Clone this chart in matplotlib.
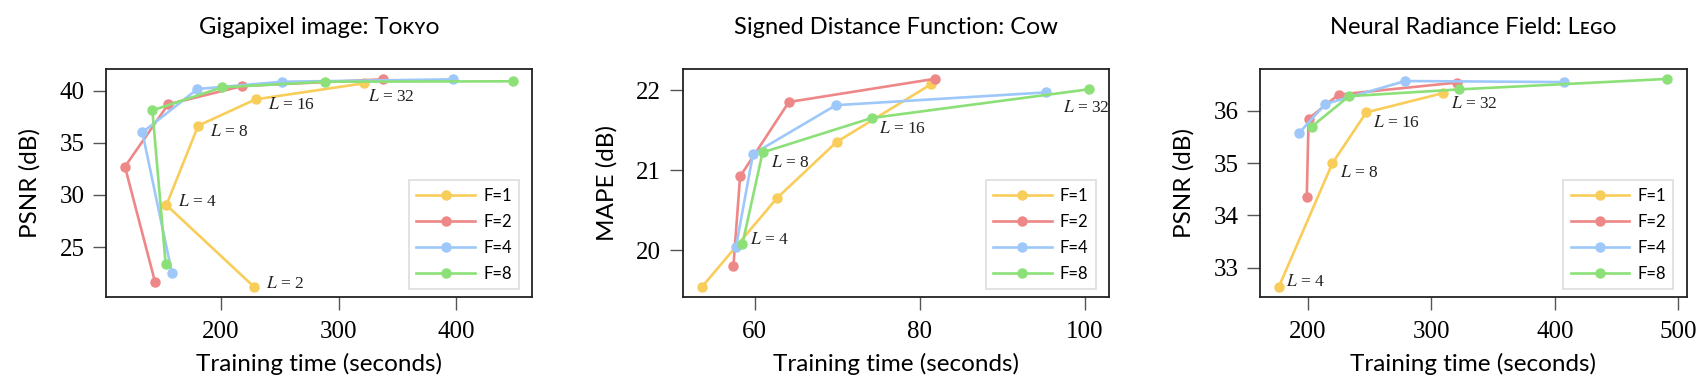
import matplotlib
matplotlib.use("Agg")
import matplotlib.pyplot as plt

# ---------------- data ----------------
series_labels = ["F=1", "F=2", "F=4", "F=8"]
colors = ["#F9CD5A", "#EE8787", "#9DC8F9", "#8CE078"]

# Panel 1: Gigapixel image (Tokyo), L = 2..32
tokyo_levels = [2, 4, 8, 16, 32]
tokyo_time = {
    "F=1": [227.9, 153.6, 180.6, 229.4, 321.1],
    "F=2": [143.9, 118.4, 155.1, 218.2, 337.2],
    "F=4": [158.4, 133.2, 180.0, 252.2, 397.3],
    "F=8": [153.0, 141.7, 200.9, 288.0, 448.0],
}
tokyo_psnr = {
    "F=1": [21.2, 29.03, 36.64, 39.17, 40.70],
    "F=2": [21.68, 32.71, 38.69, 40.45, 41.09],
    "F=4": [22.47, 36.0, 40.16, 40.86, 41.09],
    "F=8": [23.37, 38.11, 40.32, 40.86, 40.90],
}

# Panel 2: Signed distance function (Cow), L = 4..32
cow_levels = [4, 8, 16, 32]
cow_time = {
    "F=1": [53.59, 62.69, 69.91, 81.35],
    "F=2": [57.40, 58.21, 64.13, 81.84],
    "F=4": [57.71, 59.78, 69.82, 95.29],
    "F=8": [58.48, 60.94, 74.17, 100.58],
}
cow_mape = {
    "F=1": [19.54, 20.65, 21.35, 22.07],
    "F=2": [19.80, 20.92, 21.85, 22.14],
    "F=4": [20.04, 21.20, 21.81, 21.97],
    "F=8": [20.07, 21.22, 21.65, 22.01],
}

# Panel 3: Neural radiance field (Lego), L = 4..32
lego_levels = [4, 8, 16, 32]
lego_time = {
    "F=1": [176.6, 219.9, 247.3, 309.6],
    "F=2": [199.1, 200.6, 224.8, 320.7],
    "F=4": [192.7, 214.0, 278.9, 407.4],
    "F=8": [203.2, 233.3, 322.4, 490.7],
}
lego_psnr = {
    "F=1": [32.64, 35.0, 35.97, 36.34],
    "F=2": [34.36, 35.85, 36.31, 36.54],
    "F=4": [35.57, 36.13, 36.57, 36.55],
    "F=8": [35.70, 36.28, 36.41, 36.61],
}

titles = ["Gigapixel image: Tᴏᴋʏᴏ", "Signed Distance Function: Cᴏᴡ", "Neural Radiance Field: Lᴇɢᴏ"]
ylabels = ["PSNR (dB)", "MAPE (dB)", "PSNR (dB)"]
xlabel = "Training time (seconds)"

# ---------------- style ----------------
SANS = ["Lato", "DejaVu Sans"]
SERIF = ["Liberation Serif", "DejaVu Serif"]
plt.rcParams["mathtext.fontset"] = "stix"

fig = plt.figure(figsize=(17.06, 3.92), dpi=100)
W, H = 1706.0, 392.0
ax_w = 426.5
ax_top, ax_bot = 69.0, 296.7
lefts = [106.0, 682.8, 1260.2]

panels = [
    dict(levels=tokyo_levels, t=tokyo_time, v=tokyo_psnr, xlim=(102.3, 464.6), ylim=(20.24, 42.08),
         xticks=[200, 300, 400], yticks=[25, 30, 35, 40], lab_series="F=1",
         offsets=[(12, 3), (12, 3), (12, -6), (12.5, -6), (4.6, -13.3)]),
    dict(levels=cow_levels, t=cow_time, v=cow_mape, xlim=(51.26, 103.0), ylim=(19.417, 22.2625),
         xticks=[60, 80, 100], yticks=[20, 21, 22], lab_series="F=8",
         offsets=[(8, 4.3), (8, -10.7), (7, -11), (-26.6, -19)]),
    dict(levels=lego_levels, t=lego_time, v=lego_psnr, xlim=(161.4, 506.7), ylim=(32.445, 36.80),
         xticks=[200, 300, 400, 500], yticks=[33, 34, 35, 36], lab_series="F=1",
         offsets=[(7.2, 4.3), (7.2, -10), (6.5, -10.7), (8, -11)]),
]

for i, p in enumerate(panels):
    ax = fig.add_axes([lefts[i] / W, 1 - ax_bot / H, ax_w / W, (ax_bot - ax_top) / H])
    for s, c in zip(series_labels, colors):
        ax.plot(p["t"][s], p["v"][s], color=c, lw=1.9, marker="o", ms=6.5, label=s)
    ax.set_xlim(*p["xlim"])
    ax.set_ylim(*p["ylim"])
    ax.set_xticks(p["xticks"])
    ax.set_yticks(p["yticks"])
    for sp in ax.spines.values():
        sp.set_linewidth(1.3)
        sp.set_color("#222222")
    ax.tick_params(axis="both", direction="out", length=9.5, width=1.0, color="#555555",
                   labelsize=18)
    ax.tick_params(axis="x", pad=8)
    ax.tick_params(axis="y", pad=6)
    for lab in ax.get_xticklabels() + ax.get_yticklabels():
        lab.set_fontfamily(SERIF)

    # level annotations
    s = p["lab_series"]
    for lvl, x, y, off in zip(p["levels"], p["t"][s], p["v"][s], p["offsets"]):
        ax.annotate(f"$L$ = {lvl}", xy=(x, y), xytext=off, textcoords="offset pixels",
                    ha="left", va="center", fontsize=12.5, family=SERIF, color="#222222")

    ax.set_xlabel(xlabel, fontsize=17.5, family=SANS, va="center")
    ax.xaxis.set_label_coords(0.5, -(364 - ax_bot) / (ax_bot - ax_top))
    ax.set_ylabel(ylabels[i], fontsize=17.5, family=SANS, va="center")
    ax.yaxis.set_label_coords(-76 / ax_w, 0.5)
    ax.text(0.5, 1 + (ax_top - 27.5) / (ax_bot - ax_top), titles[i], transform=ax.transAxes,
            ha="center", va="center", fontsize=17, family=SANS)

    leg = ax.legend(loc="lower right", bbox_to_anchor=(1 - 13.3 / ax_w, 7.4 / (ax_bot - ax_top)),
                    borderaxespad=0, prop={"family": SANS, "size": 12}, frameon=True,
                    fancybox=False, framealpha=1, edgecolor="#dddddd", handlelength=3.5,
                    handletextpad=0.5, labelspacing=0.6, borderpad=0.45)
    leg.get_frame().set_linewidth(1.2)

fig.savefig("out.png", dpi=100)
